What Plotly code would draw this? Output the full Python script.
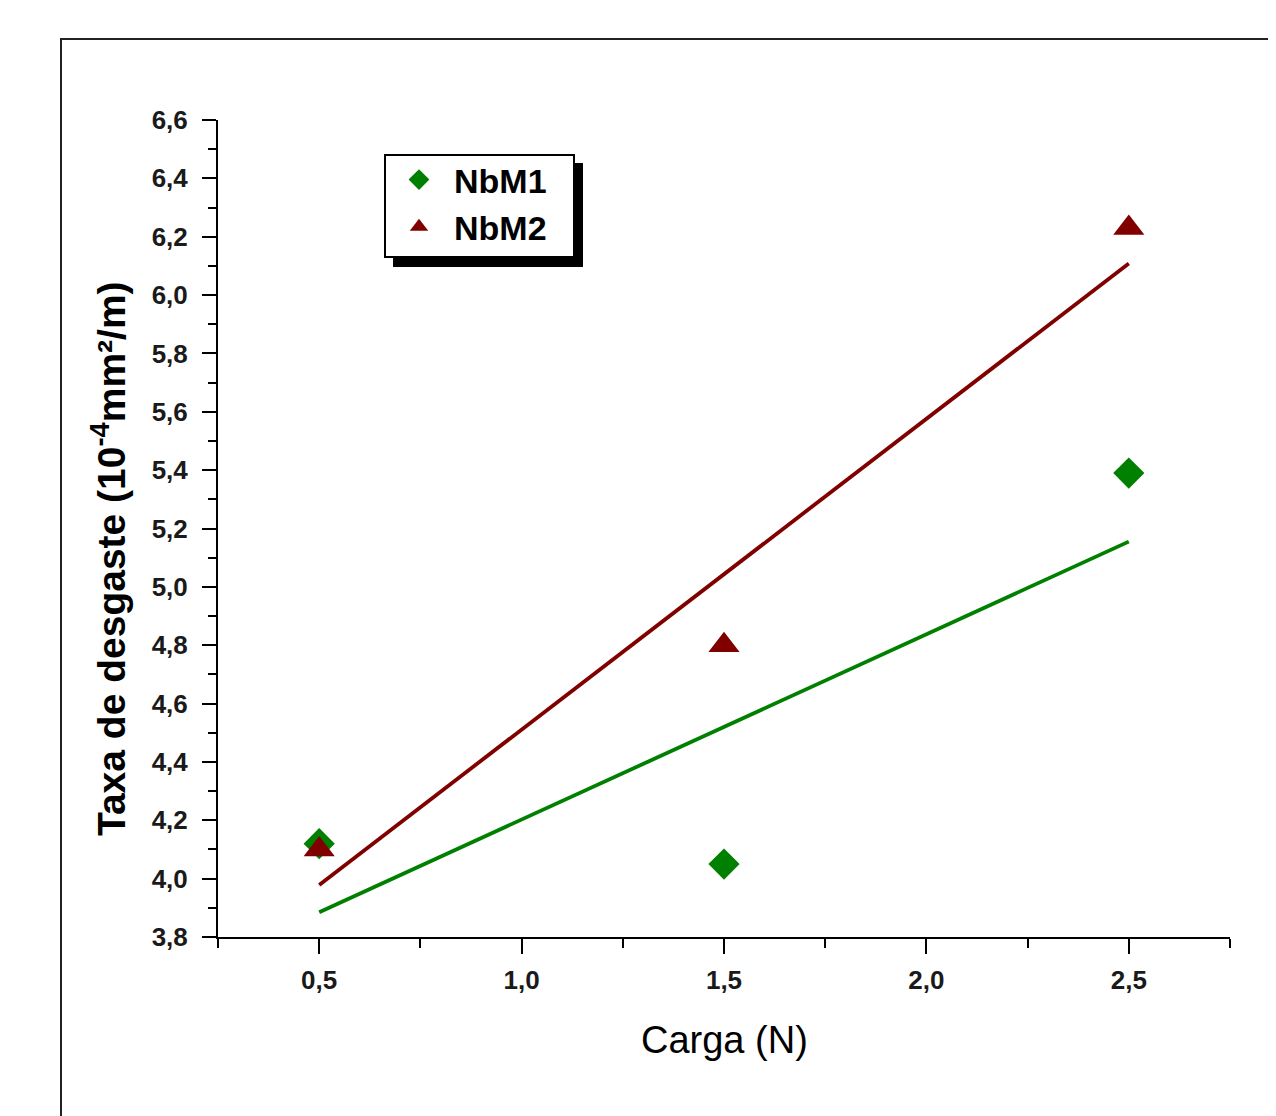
import numpy as np
import plotly.graph_objects as go

# ---- data ----
carga = [0.5, 1.5, 2.5]
nbm1 = [4.12, 4.05, 5.39]
nbm2 = [4.10, 4.80, 6.23]
series_names = ["NbM1", "NbM2"]
x_title = "Carga (N)"
y_title = "Taxa de desgaste (10<sup>-4</sup>mm²/m)"

OFF = 8  # page body margin
W, H = 1276 - OFF, 1116 - OFF
# plot area in screen pixels: x 218..1230, y 120..937
L, R, T, B = 218 - OFF, 1276 - 1230, 120 - OFF, 1116 - 937
PW, PH = W - L - R, H - T - B


def px(xs_):
    return (xs_ - OFF - L) / PW


def py(ys_):
    return (H - B - (ys_ - OFF)) / PH


GREEN = "#008000"
RED = "#800000"
FONT = "Liberation Sans, Arial, sans-serif"

fig = go.Figure()

xs = np.array(carga)
styles = [
    (nbm1, series_names[0], GREEN, "diamond", 24),
    (nbm2, series_names[1], RED, "triangle-up", 27),
]
for ys, name, color, sym, size in styles:
    k, b = np.polyfit(xs, np.array(ys), 1)
    xf = np.array([xs.min(), xs.max()])
    fig.add_trace(go.Scatter(x=xf, y=k * xf + b, mode="lines",
                             line=dict(color=color, width=3.8),
                             showlegend=False, hoverinfo="skip"))

for ys, name, color, sym, size in styles:
    fig.add_trace(go.Scatter(x=carga, y=ys, mode="markers", name=name,
                             marker=dict(color=color, symbol=sym, size=size,
                                         line=dict(width=0))))

axis_common = dict(
    showline=True, linecolor="black", linewidth=2,
    ticks="outside", tickwidth=2, tickcolor="black",
    showgrid=False, zeroline=False, tickformat=".1f",
    tickfont=dict(family=FONT, size=26, color="#1a1a1a", weight="bold"),
)

fig.update_layout(
    width=W, height=H,
    margin=dict(l=L, r=R, t=T, b=B, pad=0),
    paper_bgcolor="white", plot_bgcolor="white",
    separators=",.",
    font=dict(family=FONT, color="black"),
    xaxis=dict(range=[0.25, 2.75], tick0=0.5, dtick=0.5, ticklen=15,
               ticklabelstandoff=4,
               minor=dict(dtick=0.25, tick0=0.25, ticks="outside", ticklen=9,
                          tickwidth=2, tickcolor="black"),
               **axis_common),
    yaxis=dict(range=[3.8, 6.6], tick0=3.8, dtick=0.2, ticklen=14,
               ticklabelstandoff=9,
               minor=dict(dtick=0.1, tick0=3.8, ticks="outside", ticklen=8,
                          tickwidth=2, tickcolor="black"),
               **axis_common),
    legend=dict(x=px(384), y=py(151), xanchor="left", yanchor="top",
                bgcolor="rgba(0,0,0,0)", borderwidth=0,
                font=dict(family=FONT, size=34, color="black", weight="bold"),
                itemsizing="trace", itemwidth=60, tracegroupgap=0),
    showlegend=True,
)

# axis titles
fig.add_annotation(text=y_title, xref="paper", yref="paper",
                   x=px(108), y=py(559), xanchor="center", yanchor="middle",
                   textangle=-90, showarrow=False,
                   font=dict(family=FONT, size=39, color="black", weight="bold"))
fig.add_annotation(text=x_title, xref="paper", yref="paper",
                   x=px(724), y=py(1040), xanchor="center", yanchor="middle",
                   showarrow=False,
                   font=dict(family=FONT, size=38, color="black"))

# legend shadow and box
fig.add_shape(type="rect", xref="paper", yref="paper", layer="below",
              x0=px(393), x1=px(583), y0=py(267), y1=py(163),
              fillcolor="black", line=dict(width=0))
fig.add_shape(type="rect", xref="paper", yref="paper", layer="below",
              x0=px(385), x1=px(574), y0=py(257), y1=py(155),
              fillcolor="white", line=dict(color="black", width=2))

# page frame
fig.add_shape(type="line", xref="paper", yref="paper",
              x0=px(60), x1=px(1290), y0=py(39), y1=py(39),
              line=dict(color="#222222", width=2))
fig.add_shape(type="line", xref="paper", yref="paper",
              x0=px(61), x1=px(61), y0=py(38), y1=py(1130),
              line=dict(color="#222222", width=2))

fig.write_html("out.html")
